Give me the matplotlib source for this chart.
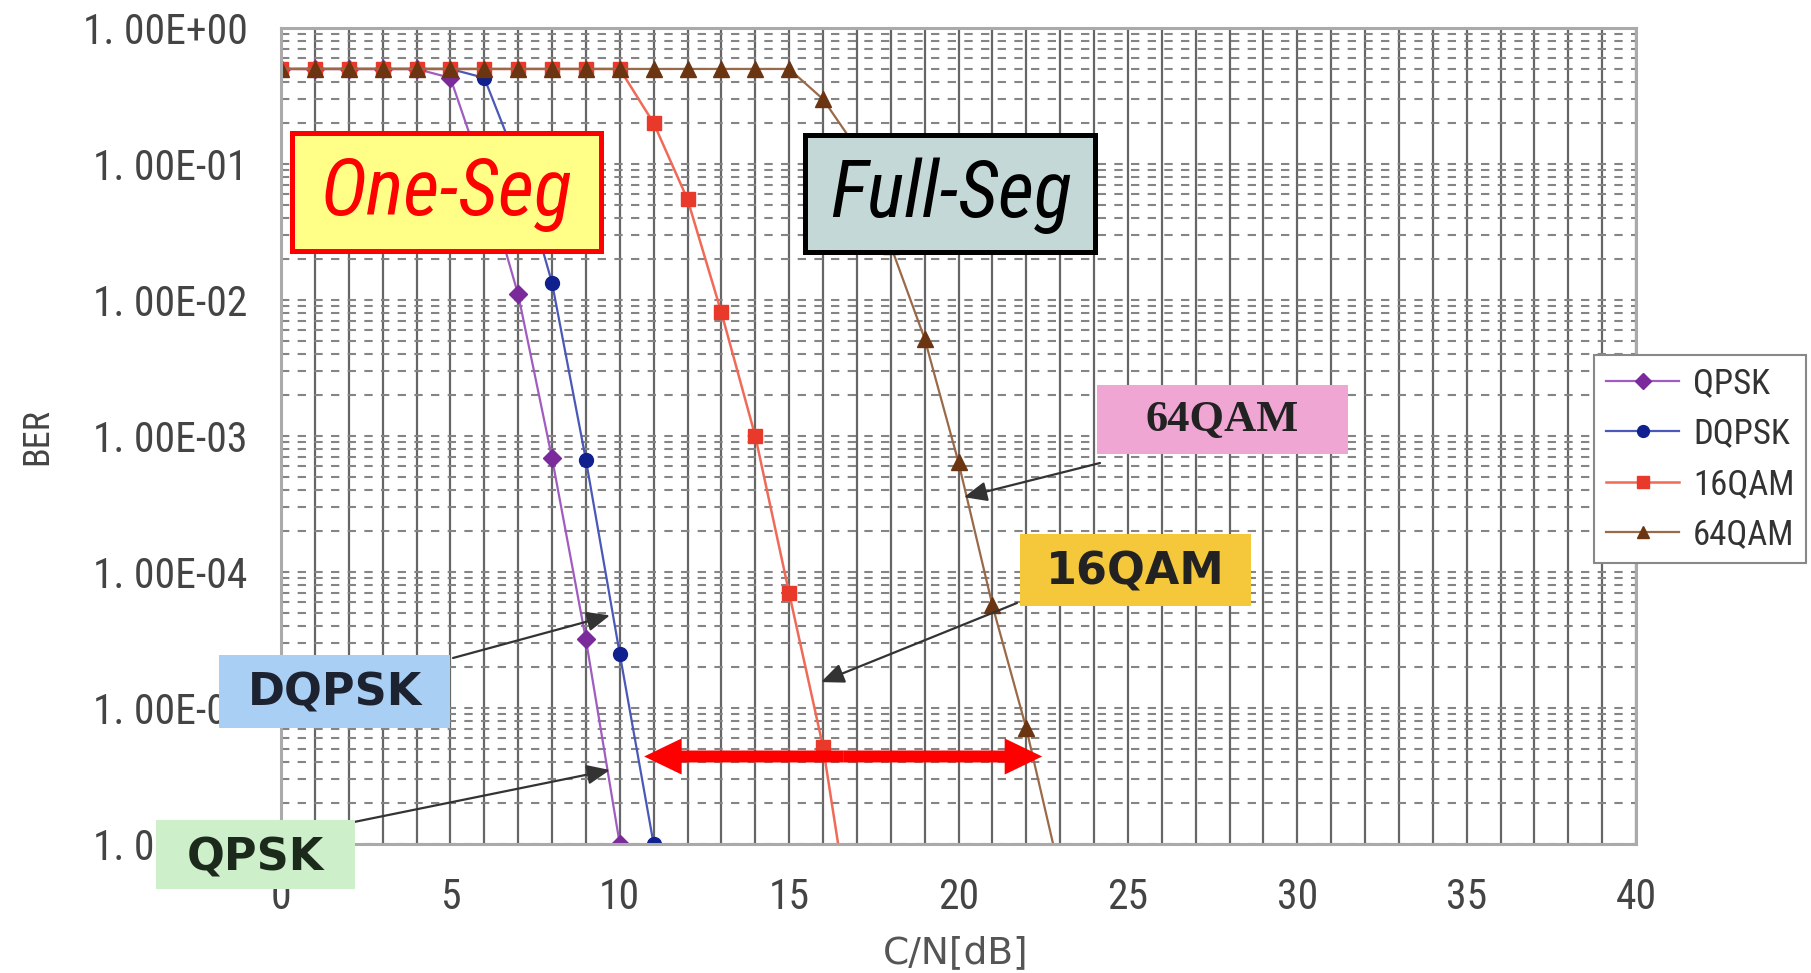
import numpy as np
import matplotlib.pyplot as plt
from matplotlib.patches import Rectangle, FancyArrowPatch
from matplotlib.ticker import LogLocator, NullFormatter

W, H = 1811, 973

# データ (C/N [dB] と BER)
cn_qpsk = [0, 1, 2, 3, 4, 5, 6, 7, 8, 9, 10]
ber_qpsk = [0.5, 0.5, 0.5, 0.5, 0.5, 0.43, 0.08, 1.1e-2, 6.9e-4, 3.2e-5, 1.0e-6]

cn_dqpsk = [0, 1, 2, 3, 4, 5, 6, 7, 8, 9, 10, 11]
ber_dqpsk = [0.5, 0.5, 0.5, 0.5, 0.5, 0.5, 0.43, 0.1, 1.34e-2, 6.7e-4, 2.5e-5, 1.0e-6]

cn_16qam = [0, 1, 2, 3, 4, 5, 6, 7, 8, 9, 10, 11, 12, 13, 14, 15, 16, 17]
ber_16qam = [0.5, 0.5, 0.5, 0.5, 0.5, 0.5, 0.5, 0.5, 0.5, 0.5, 0.5,
             0.2, 5.5e-2, 8.1e-3, 1.0e-3, 7.0e-5, 5.2e-6, 1.3e-7]

cn_64qam = list(range(0, 24))
ber_64qam = [0.5] * 16 + [0.3, 0.13, 0.025, 5.2e-3, 6.4e-4, 5.7e-5, 7.1e-6, 6.0e-7]

yticks = [1e0, 1e-1, 1e-2, 1e-3, 1e-4, 1e-5, 1e-6]
ytick_labels = ['1. 00E+00', '1. 00E-01', '1. 00E-02', '1. 00E-03',
                '1. 00E-04', '1. 00E-05', '1. 00E-06']
xticks = list(range(0, 41, 5))

NARROW = ['Roboto Condensed', 'DejaVu Sans']


def fxy(px, py):
    # 画像ピクセル(左上原点) -> figure fraction
    return px / W, 1 - py / H


fig = plt.figure(figsize=(W / 100, H / 100), dpi=100)
ax = fig.add_axes([281 / W, 1 - 844 / H, (1636 - 281) / W, (844 - 28) / H])

ax.plot(cn_qpsk, ber_qpsk, color='#a05cc0', lw=1.6, marker='D', ms=9,
        mfc='#7a2a9a', mec='#7a2a9a', label='QPSK')
ax.plot(cn_dqpsk, ber_dqpsk, color='#4a58b8', lw=1.6, marker='o', ms=10,
        mfc='#10208e', mec='#10208e', label='DQPSK')
ax.plot(cn_16qam, ber_16qam, color='#f06a58', lw=1.8, marker='s', ms=10,
        mfc='#e8392a', mec='#e8392a', label='16QAM')
ax.plot(cn_64qam, ber_64qam, color='#9a6a48', lw=1.6, marker='^', ms=11,
        mfc='#6b3512', mec='#6b3512', label='64QAM')

ax.set_yscale('log')
ax.set_xlim(0, 40)
ax.set_ylim(1e-6, 1e0)
ax.set_xticks(xticks)
ax.set_xticks(range(0, 41), minor=True)
ax.set_yticks(yticks)
ax.set_yticklabels(ytick_labels)
ax.yaxis.set_minor_locator(LogLocator(base=10, subs=np.arange(2, 10) * 1.0, numticks=20))
ax.yaxis.set_minor_formatter(NullFormatter())
ax.tick_params(which='both', length=0)
ax.tick_params(axis='y', pad=24, labelsize=30, labelcolor='#444444')
ax.tick_params(axis='x', pad=24, labelsize=30, labelcolor='#444444')
for lab in ax.get_xticklabels() + ax.get_yticklabels():
    lab.set_family(NARROW)

ax.grid(axis='x', which='both', color='#666666', lw=1.6, ls='-')
ax.grid(axis='y', which='both', color='#858585', lw=1.5, ls=(0, (4, 4)))
ax.set_axisbelow(True)
for s in ax.spines.values():
    s.set_color('#aaaaaa')
    s.set_linewidth(2.2)

fig.text(*fxy(956, 953), 'C/N[dB]', fontsize=27, color='#555555',
         ha='center', va='center', family='DejaVu Sans')
fig.text(*fxy(37, 437), 'BER', fontsize=26, color='#444444', rotation=90,
         ha='center', va='center', family=NARROW)

leg = ax.legend(loc='upper left', bbox_to_anchor=fxy(1594, 355),
                bbox_transform=fig.transFigure, borderaxespad=0,
                prop={'family': NARROW, 'size': 25}, frameon=True,
                fancybox=False, edgecolor='#888888', framealpha=1,
                handlelength=2.1, handletextpad=0.4, labelspacing=0.5,
                borderpad=0.35, markerscale=0.85)
leg.get_frame().set_linewidth(1.5)
for t in leg.get_texts():
    t.set_color('#333333')


def box(x0, y0, x1, y1, fc, ec='none', lw=0):
    r = Rectangle(fxy(x0, y1), (x1 - x0) / W, (y1 - y0) / H,
                  transform=fig.transFigure, facecolor=fc, edgecolor=ec,
                  linewidth=lw, zorder=5)
    fig.add_artist(r)


# One-Seg / Full-Seg
box(292, 133, 601, 251, '#ffff88', '#ff0000', 3.6)
fig.text(*fxy(447, 194), 'One-Seg', fontsize=57, color='#ff0000', style='italic',
         ha='center', va='center', family=NARROW, zorder=6)
box(805, 135, 1095, 252, '#c4d8d8', '#000000', 3.6)
fig.text(*fxy(951, 196), 'Full-Seg', fontsize=57, color='#000000', style='italic',
         ha='center', va='center', family=NARROW, zorder=6)

# 変調方式ラベル
box(219, 655, 450, 728, '#a9cff4')
fig.text(*fxy(335, 693), 'DQPSK', fontsize=32, color='#1c2230', weight='bold',
         ha='center', va='center', family='DejaVu Sans', zorder=6)
box(156, 820, 355, 889, '#cdf0cb')
fig.text(*fxy(255, 858), 'QPSK', fontsize=32, color='#1c2a1c', weight='bold',
         ha='center', va='center', family='DejaVu Sans', zorder=6)
box(1020, 534, 1251, 606, '#f5c83c')
fig.text(*fxy(1135, 572), '16QAM', fontsize=32, color='#222222', weight='bold',
         ha='center', va='center', family='DejaVu Sans', zorder=6)
box(1097, 385, 1348, 454, '#f0a6d2')
fig.text(*fxy(1222, 420), '64QAM', fontsize=32, color='#222222', weight='bold',
         ha='center', va='center', family='Liberation Serif', zorder=6)

# 矢印
arrows = [((9.71, 4.8e-5), (453, 658)),
          ((9.71, 3.5e-6), (354, 822)),
          ((15.94, 1.55e-5), (1017, 603)),
          ((20.16, 3.55e-4), (1100, 463))]
for head, tail in arrows:
    ax.annotate('', xy=head, xycoords='data', xytext=fxy(*tail),
                textcoords='figure fraction',
                arrowprops=dict(arrowstyle='-|>,head_length=0.7,head_width=0.3',
                                color='#333333', lw=1.6, mutation_scale=20,
                                shrinkA=0, shrinkB=0), zorder=4)

# 赤い両矢印
y_arr = 4.4e-6
xl, xr = 10.72, 22.47
xm = (xl + xr) / 2
for xe in (xl, xr):
    a = FancyArrowPatch((xm, y_arr), (xe, y_arr),
                        arrowstyle='simple,head_length=2.7,head_width=2.6,tail_width=0.86',
                        mutation_scale=10, color='#ff0000', lw=0, zorder=4,
                        shrinkA=0, shrinkB=0)
    ax.add_patch(a)

plt.savefig('out.png', dpi=100)
